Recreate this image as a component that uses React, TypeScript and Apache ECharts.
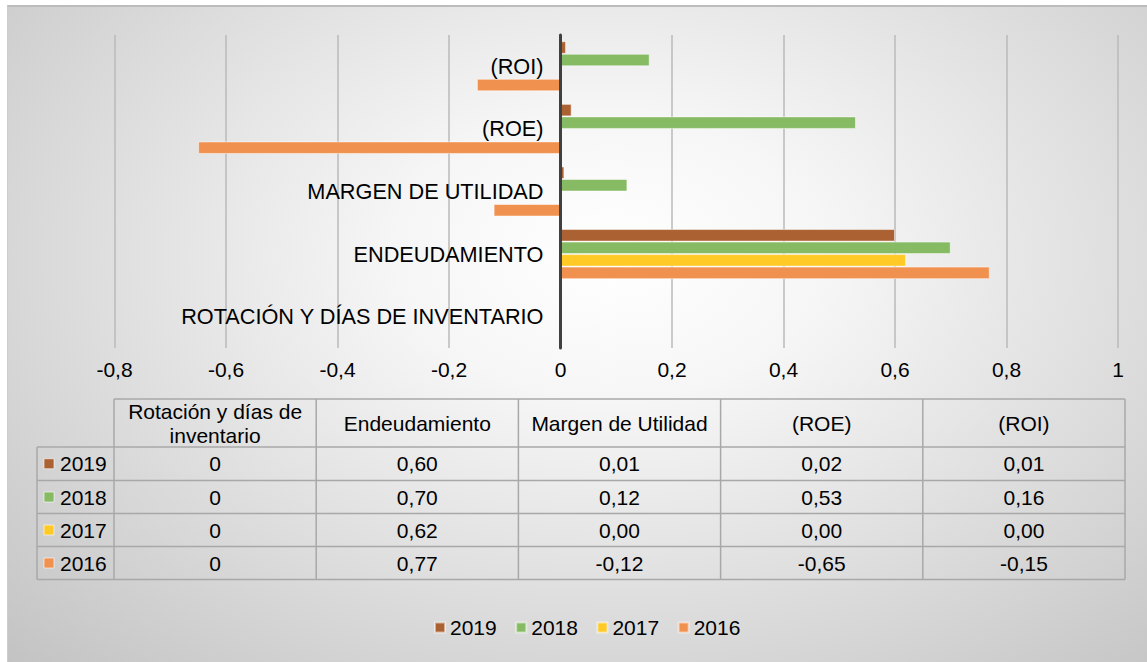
import React, { useEffect, useRef } from "react";
import * as echarts from "echarts";

const categories = [
  "ROTACIÓN Y DÍAS DE INVENTARIO",
  "ENDEUDAMIENTO",
  "MARGEN DE UTILIDAD",
  "(ROE)",
  "(ROI)",
];
const tableHeaders = [
  "Rotación y días de\ninventario",
  "Endeudamiento",
  "Margen de Utilidad",
  "(ROE)",
  "(ROI)",
];
const tableDecimals = [0, 2, 2, 2, 2];

const years = ["2019", "2018", "2017", "2016"];
const values2019 = [0, 0.6, 0.007, 0.02, 0.01];
const values2018 = [0, 0.7, 0.12, 0.53, 0.16];
const values2017 = [0, 0.62, 0.0, 0.0, 0.0];
const values2016 = [0, 0.77, -0.12, -0.65, -0.15];
const yearValues: Record<string, number[]> = {
  "2019": values2019,
  "2018": values2018,
  "2017": values2017,
  "2016": values2016,
};
const yearColors: Record<string, string> = {
  "2019": "#AB6131",
  "2018": "#86BA63",
  "2017": "#FFC926",
  "2016": "#F0914F",
};

const axisMin = -0.8;
const axisMax = 1;
const axisInterval = 0.2;

const FONT = "'Liberation Sans', Arial, sans-serif";

function fmt(v: number, d: number) {
  if (d === 0) return String(Math.round(v));
  return v.toFixed(d).replace(".", ",");
}

export default function App() {
  const ref = useRef<HTMLDivElement>(null);

  useEffect(() => {
    if (!ref.current) return;
    const chart = echarts.init(ref.current, undefined, { renderer: "svg" });

    const gridLeft = 106.5;
    const gridRight = 29;
    const gridWidth = 1139 - gridLeft - gridRight;
    const zeroOffset = ((0 - axisMin) / (axisMax - axisMin)) * gridWidth;

    // table geometry
    const tLeft = 29;
    const colEdges = [106, 308.2, 510.4, 712.6, 914.8, 1117];
    const rowEdges = [392, 440, 473.5, 506.5, 539.5, 572.5];
    const lineStyle = { stroke: "#a8a8a8", lineWidth: 1.5 };
    const g: any[] = [];
    g.push({ type: "line", shape: { x1: colEdges[0], y1: rowEdges[0], x2: colEdges[5], y2: rowEdges[0] }, style: lineStyle });
    for (let r = 1; r < rowEdges.length; r++) {
      g.push({ type: "line", shape: { x1: tLeft, y1: rowEdges[r], x2: colEdges[5], y2: rowEdges[r] }, style: lineStyle });
    }
    g.push({ type: "line", shape: { x1: tLeft, y1: rowEdges[1], x2: tLeft, y2: rowEdges[5] }, style: lineStyle });
    for (let c = 0; c < colEdges.length; c++) {
      g.push({ type: "line", shape: { x1: colEdges[c], y1: rowEdges[0], x2: colEdges[c], y2: rowEdges[5] }, style: lineStyle });
    }
    tableHeaders.forEach((h, i) => {
      g.push({
        type: "text",
        x: (colEdges[i] + colEdges[i + 1]) / 2,
        y: (rowEdges[0] + rowEdges[1]) / 2,
        style: {
          text: h,
          fill: "#000",
          fontSize: 21,
          fontFamily: FONT,
          lineHeight: 24,
          align: "center",
          verticalAlign: "middle",
          textAlign: "center",
          textVerticalAlign: "middle",
        },
      });
    });
    years.forEach((y, r) => {
      const cy = (rowEdges[r + 1] + rowEdges[r + 2]) / 2;
      g.push({
        type: "rect",
        shape: { x: 36, y: cy - 5, width: 10, height: 10 },
        style: { fill: yearColors[y], stroke: "rgba(255,255,255,0.6)", lineWidth: 1 },
      });
      g.push({
        type: "text",
        x: 52,
        y: cy,
        style: {
          text: y,
          fill: "#000",
          fontSize: 21,
          fontFamily: FONT,
          align: "left",
          verticalAlign: "middle",
          textAlign: "left",
          textVerticalAlign: "middle",
        },
      });
      yearValues[y].forEach((v, c) => {
        g.push({
          type: "text",
          x: (colEdges[c] + colEdges[c + 1]) / 2,
          y: cy,
          style: {
            text: fmt(v, tableDecimals[c]),
            fill: "#000",
            fontSize: 21,
            fontFamily: FONT,
            align: "center",
            verticalAlign: "middle",
            textAlign: "center",
            textVerticalAlign: "middle",
          },
        });
      });
    });

    chart.setOption({
      animation: false,
      textStyle: { fontFamily: FONT },
      grid: {
        left: gridLeft,
        right: gridRight,
        top: 28,
        bottom: 314,
        containLabel: false,
        outerBoundsMode: "none",
      },
      legend: {
        data: years,
        left: 426,
        top: 610,
        itemWidth: 10,
        itemHeight: 10,
        itemGap: 18.5,
        icon: "rect",
        padding: 0,
        textStyle: { fontSize: 21, color: "#000", fontFamily: FONT },
      },
      xAxis: {
        type: "value",
        min: axisMin,
        max: axisMax,
        interval: axisInterval,
        axisLine: { show: false },
        axisTick: { show: false },
        splitLine: { show: true, lineStyle: { color: "#bababa", width: 1.5 } },
        axisLabel: {
          fontSize: 21,
          color: "#000",
          margin: 11,
          formatter: (v: number) => String(Math.round(v * 10) / 10).replace(".", ","),
        },
      },
      yAxis: {
        type: "category",
        data: categories,
        z: 5,
        position: "left",
        offset: -zeroOffset,
        axisLine: { show: true, onZero: false, lineStyle: { color: "#404040", width: 3 } },
        axisTick: { show: false },
        axisLabel: { fontSize: 21.7, color: "#000", margin: 17 },
        splitLine: { show: false },
      },
      series: years.map((y) => ({
        name: y,
        type: "bar",
        data: yearValues[y],
        barGap: "0%",
        barCategoryGap: "20%",
        itemStyle: { color: yearColors[y], borderColor: "rgba(255,255,255,0.5)", borderWidth: 1 },
      })),
      graphic: { elements: g },
    });

    return () => chart.dispose();
  }, []);

  return (
    <div
      style={{
        position: "absolute",
        left: 7,
        top: 5,
        width: 1140,
        height: 657,
        boxSizing: "border-box",
        borderTop: "2px solid #bcbcbc",
        borderLeft: "1px solid #cdcdcd",
        background:
          "radial-gradient(ellipse farthest-corner at 53% 38%, #ffffff 0%, #f6f6f6 25%, #c3c3c3 100%)",
      }}
    >
      <div ref={ref} style={{ width: 1139, height: 655 }} />
    </div>
  );
}
